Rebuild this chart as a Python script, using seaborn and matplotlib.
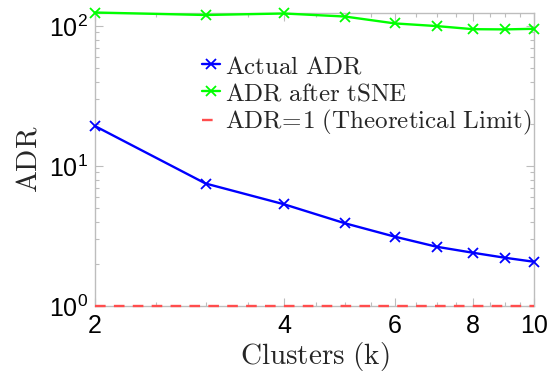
import numpy as np
import pandas as pd
import matplotlib
matplotlib.use("Agg")
import matplotlib.pyplot as plt
import seaborn as sns
from matplotlib.font_manager import FontProperties
from matplotlib.ticker import FixedLocator, NullFormatter, LogLocator

clusters = [2, 3, 4, 5, 6, 7, 8, 9, 10]
actual_adr = [19.3, 7.5, 5.33, 3.9, 3.13, 2.65, 2.4, 2.21, 2.07]
adr_tsne = [125, 120, 123, 117, 104.5, 100, 95, 94.7, 95.6]
limit_adr = [1, 1, 1, 1, 1, 1, 1, 1, 1]
x_ticks = [2, 4, 6, 8, 10]

sns.set_theme(style="white")
plt.rcParams['font.family'] = ['Liberation Sans', 'DejaVu Sans']
plt.rcParams['mathtext.fontset'] = 'custom'
plt.rcParams['mathtext.rm'] = 'Liberation Sans'
plt.rcParams['mathtext.it'] = 'Liberation Sans:italic'
plt.rcParams['mathtext.bf'] = 'Liberation Sans:bold'

fig = plt.figure(figsize=(5.57, 3.76), dpi=100)
ax = fig.add_axes([95/557, 1-306/376, (534-95)/557, (306-13)/376])

df = pd.DataFrame({"k": clusters, "actual": actual_adr, "tsne": adr_tsne, "limit": limit_adr})

common = dict(ax=ax, lw=1.7, zorder=3, clip_on=False)
sns.lineplot(data=df, x="k", y="actual", color=(0, 0, 1),
             marker="x", markersize=7, markeredgewidth=1.3, markeredgecolor=(0, 0, 1),
             label=r"$\mathrm{Actual\ ADR}$", **common)
sns.lineplot(data=df, x="k", y="tsne", color=(0, 1, 0),
             marker="x", markersize=7, markeredgewidth=1.3, markeredgecolor=(0, 1, 0),
             label=r"$\mathrm{ADR\ after\ tSNE}$", **common)
sns.lineplot(data=df, x="k", y="limit", color=(1, 0.3, 0.3),
             linestyle=(0, (4.5, 3.5)), label=r"$\mathrm{ADR}\!=\!1\ \mathrm{(Theoretical\ Limit)}$",
             **common)

ax.set_xscale("log")
ax.set_yscale("log")
ax.set_xlim(2, 10)
ax.set_ylim(1, 124)

ax.xaxis.set_major_locator(FixedLocator(x_ticks))
ax.set_xticklabels([str(t) for t in x_ticks])
ax.xaxis.set_minor_locator(FixedLocator([2.5, 3, 3.5, 4.5, 5, 5.5, 6.5, 7, 7.5, 8.5, 9, 9.5]))
ax.xaxis.set_minor_formatter(NullFormatter())
ax.yaxis.set_major_locator(LogLocator(base=10, numticks=10))
ax.yaxis.set_minor_locator(LogLocator(base=10, subs=np.arange(2, 10), numticks=10))
ax.yaxis.set_minor_formatter(NullFormatter())

gray = '#bdbdbd'
for s in ax.spines.values():
    s.set_visible(True)
    s.set_color(gray)
    s.set_linewidth(1.0)
ax.tick_params(which='both', direction='in', top=True, right=True, bottom=True, left=True,
               color=gray, labelsize=18, labelcolor='black')
ax.tick_params(which='major', length=6, width=0.8)
ax.tick_params(which='minor', length=3, width=0.8)
ax.tick_params(axis='x', pad=6)
ax.tick_params(axis='y', pad=5)

lab_fp = FontProperties(size=21, math_fontfamily='cm')
ax.set_xlabel(r"$\mathrm{Clusters\ (k)}$", fontproperties=lab_fp, labelpad=1)
ax.set_ylabel(r"$\mathrm{ADR}$", fontproperties=lab_fp, labelpad=5)

leg_fp = FontProperties(size=18, math_fontfamily='cm')
ax.legend(loc='upper left', bbox_to_anchor=(0.243, 0.86), frameon=False, prop=leg_fp,
          handlelength=0.75, handletextpad=0.2, labelspacing=0.12, borderaxespad=0,
          borderpad=0)

fig.savefig("out.png", dpi=100)
